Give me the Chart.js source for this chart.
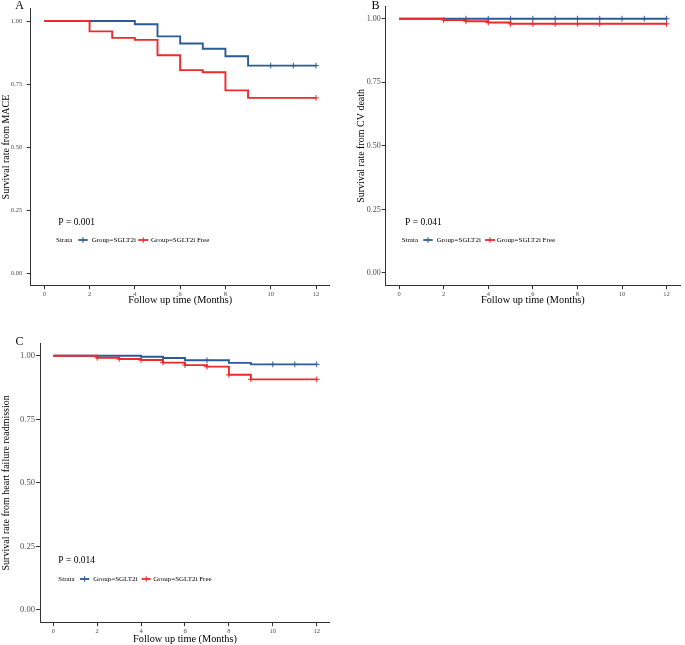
<!DOCTYPE html>
<html><head><meta charset="utf-8">
<script src="https://cdn.jsdelivr.net/npm/chart.js@4.4.0/dist/chart.umd.min.js"></script>
<style>
html,body{margin:0;padding:0;background:#fff;}
body{width:685px;height:645px;position:relative;overflow:hidden;}
canvas{position:absolute;}
</style></head><body>
<canvas id="cA" width="340" height="306" style="left:0px;top:0px"></canvas>
<canvas id="cB" width="345" height="306" style="left:340px;top:0px"></canvas>
<canvas id="cC" width="340" height="339" style="left:0px;top:306px"></canvas>
<script>
// ---- data ----
const xTicks = [0, 2, 4, 6, 8, 10, 12];
const yTicks = [0, 0.25, 0.5, 0.75, 1];
const groupLabels = ['Group=SGLT2i', 'Group=SGLT2i Free'];
const xTitle = 'Follow up time (Months)';

// Panel A: MACE
const maceSglt2Time = [0, 4, 5, 6, 7, 8, 9, 12];
const maceSglt2Surv = [1.0, 0.987, 0.939, 0.911, 0.890, 0.860, 0.823, 0.823];
const maceSglt2Cens = [10, 11, 12];
const maceFreeTime = [0, 2, 3, 4, 5, 6, 7, 8, 9, 12];
const maceFreeSurv = [1.0, 0.959, 0.933, 0.925, 0.864, 0.805, 0.797, 0.725, 0.695, 0.695];
const maceFreeCens = [12];

// Panel B: CV death
const cvSglt2Time = [0, 12];
const cvSglt2Surv = [1.0, 1.0];
const cvSglt2Cens = [3, 4, 5, 6, 7, 8, 9, 10, 11, 12];
const cvFreeTime = [0, 2, 3, 4, 5, 12];
const cvFreeSurv = [1.0, 0.995, 0.990, 0.985, 0.980, 0.980];
const cvFreeCens = [2, 3, 4, 5, 6, 7, 8, 9, 12];

// Panel C: heart failure readmission
const hfSglt2Time = [0, 4, 5, 6, 8, 9, 12];
const hfSglt2Surv = [1.0, 0.996, 0.991, 0.982, 0.972, 0.966, 0.966];
const hfSglt2Cens = [7, 10, 11, 12];
const hfFreeTime = [0, 2, 3, 4, 5, 6, 7, 8, 9, 12];
const hfFreeSurv = [1.0, 0.992, 0.987, 0.983, 0.973, 0.963, 0.957, 0.925, 0.907, 0.907];
const hfFreeCens = [2, 3, 4, 5, 6, 7, 8, 9, 12];

const COL_BLUE = '#2d5b98';
const COL_RED = '#ee2a2a';
const AXIS_COL = '#333333';
const TICK_COL = '#4d4d4d';
const SERIF = '"Liberation Serif", "Times New Roman", serif';

function survAt(times, surv, t) {
  let s = surv[0];
  for (let i = 0; i < times.length; i++) if (times[i] <= t) s = surv[i];
  return s;
}
function pts(times, surv) { return times.map((t, i) => ({x: t, y: surv[i]})); }
function cens(times, surv, c) { return c.map(t => ({x: t, y: survAt(times, surv, t)})); }

const annotPlugin = {
  id: 'annot',
  afterDraw(chart) {
    const a = chart.options.plugins.annot;
    const ctx = chart.ctx;
    const ox = a.ox, oy = a.oy;
    ctx.save();
    ctx.fillStyle = '#000';
    ctx.font = '12px ' + SERIF;
    ctx.textAlign = 'center'; ctx.textBaseline = 'middle';
    ctx.fillText(a.letter.text, a.letter.x - ox, a.letter.y - oy);
    ctx.font = '9.5px ' + SERIF;
    ctx.textAlign = 'left';
    ctx.fillText(a.p.text, a.p.x - ox, a.p.y - oy);
    const L = a.legend;
    const ly = L.y - oy;
    ctx.font = '7px ' + SERIF;
    ctx.fillStyle = '#000';
    ctx.fillText('Strata', L.strataX - ox, ly);
    const syms = [[L.sym1, COL_BLUE, L.text1X, groupLabels[0]], [L.sym2, COL_RED, L.text2X, groupLabels[1]]];
    syms.forEach(([s, col, tx, lab]) => {
      ctx.strokeStyle = col; ctx.lineWidth = 1.8;
      ctx.beginPath();
      ctx.moveTo(s[0] - ox, ly); ctx.lineTo(s[1] - ox, ly);
      ctx.stroke();
      ctx.lineWidth = 1;
      ctx.beginPath();
      const mx = (s[0] + s[1]) / 2 - ox;
      ctx.moveTo(mx, ly - 2.8); ctx.lineTo(mx, ly + 2.8);
      ctx.stroke();
      ctx.fillStyle = '#000';
      ctx.fillText(lab, tx - ox, ly);
    });
    ctx.restore();
  }
};

function makePanel(cfg) {
  const c = document.getElementById(cfg.id);
  const W = c.width, H = c.height;
  const padLeft = cfg.titlePad;
  const yW = cfg.area.left - cfg.ox - padLeft;
  const xH = H - (cfg.area.bottom - cfg.oy);
  new Chart(c, {
    type: 'line',
    data: {
      datasets: [
        {label: groupLabels[1] + ' c', data: cens(cfg.free[0], cfg.free[1], cfg.free[2]), showLine: false,
         pointStyle: 'cross', pointRadius: 2.9, borderColor: COL_RED, borderWidth: 1, order: 0},
        {label: groupLabels[0] + ' c', data: cens(cfg.sg[0], cfg.sg[1], cfg.sg[2]), showLine: false,
         pointStyle: 'cross', pointRadius: 2.9, borderColor: COL_BLUE, borderWidth: 1, order: 1},
        {label: groupLabels[1], data: pts(cfg.free[0], cfg.free[1]), stepped: 'before', borderColor: COL_RED,
         borderWidth: 1.9, pointRadius: 0, fill: false, order: 2},
        {label: groupLabels[0], data: pts(cfg.sg[0], cfg.sg[1]), stepped: 'before', borderColor: COL_BLUE,
         borderWidth: 1.9, pointRadius: 0, fill: false, order: 3}
      ]
    },
    options: {
      responsive: false, animation: false,
      layout: {padding: {left: padLeft, top: cfg.area.top - cfg.oy, right: W - (cfg.area.right - cfg.ox), bottom: 0}},
      plugins: {legend: {display: false}, tooltip: {enabled: false},
        annot: Object.assign({ox: cfg.ox, oy: cfg.oy}, cfg.annot)},
      scales: {
        x: {
          type: 'linear', min: -0.6, max: 12.6,
          afterBuildTicks: s => { s.ticks = xTicks.map(v => ({value: v})); },
          afterFit: s => { s.height = xH; },
          grid: {drawOnChartArea: false, drawTicks: true, tickLength: 3.5, color: AXIS_COL, lineWidth: 1},
          border: {display: true, color: AXIS_COL, width: 1},
          ticks: {font: {family: SERIF, size: 6.5}, color: TICK_COL, padding: 1, maxRotation: 0, autoSkip: false,
                  callback: v => String(v)},
          title: {display: true, text: xTitle, font: {family: SERIF, size: 10.3}, color: '#000', padding: {top: 0, bottom: 0}}
        },
        y: {
          type: 'linear', min: -0.05, max: 1.05,
          afterBuildTicks: s => { s.ticks = yTicks.map(v => ({value: v})); },
          afterFit: s => { s.width = yW; },
          grid: {drawOnChartArea: false, drawTicks: true, tickLength: 4, color: AXIS_COL, lineWidth: 1},
          border: {display: true, color: AXIS_COL, width: 1},
          ticks: {font: {family: SERIF, size: cfg.yTickSize}, color: TICK_COL, padding: cfg.yTickPad, autoSkip: false,
                  callback: v => Number(v).toFixed(2)},
          title: {display: true, text: cfg.yTitle, font: {family: SERIF, size: 10}, color: '#000', padding: {top: 0, bottom: 0}}
        }
      }
    },
    plugins: [annotPlugin]
  });
}

makePanel({
  id: 'cA', ox: 0, oy: 0, titlePad: 0,
  area: {left: 30.7, right: 329.6, top: 6, bottom: 285.7},
  yTitle: 'Survival rate from MACE', yTickSize: 6.5, yTickPad: 4.5,
  sg: [maceSglt2Time, maceSglt2Surv, maceSglt2Cens],
  free: [maceFreeTime, maceFreeSurv, maceFreeCens],
  annot: {
    letter: {text: 'A', x: 19.5, y: 5.5},
    p: {text: 'P = 0.001', x: 58.3, y: 222},
    legend: {y: 240, strataX: 56, sym1: [78.3, 87.7], text1X: 91.7, sym2: [138.3, 148.3], text2X: 151}
  }
});
makePanel({
  id: 'cB', ox: 340, oy: 0, titlePad: 15,
  area: {left: 385.7, right: 684.6, top: 6, bottom: 285.7},
  yTitle: 'Survival rate from CV death', yTickSize: 8, yTickPad: 1,
  sg: [cvSglt2Time, cvSglt2Surv, cvSglt2Cens],
  free: [cvFreeTime, cvFreeSurv, cvFreeCens],
  annot: {
    letter: {text: 'B', x: 375.5, y: 5.5},
    p: {text: 'P = 0.041', x: 405, y: 222},
    legend: {y: 240, strataX: 401.7, sym1: [423.3, 432.7], text1X: 436.7, sym2: [485, 495], text2X: 496.7}
  }
});
makePanel({
  id: 'cC', ox: 0, oy: 306, titlePad: 0,
  area: {left: 40.1, right: 329.9, top: 343, bottom: 622.7},
  yTitle: 'Survival rate from heart failure readmission', yTickSize: 8.5, yTickPad: 1.2,
  sg: [hfSglt2Time, hfSglt2Surv, hfSglt2Cens],
  free: [hfFreeTime, hfFreeSurv, hfFreeCens],
  annot: {
    letter: {text: 'C', x: 19.5, y: 341.5},
    p: {text: 'P = 0.014', x: 58.3, y: 560},
    legend: {y: 579, strataX: 58.3, sym1: [80, 89.3], text1X: 93.3, sym2: [141.7, 150.7], text2X: 153.3}
  }
});
</script>
</body></html>
